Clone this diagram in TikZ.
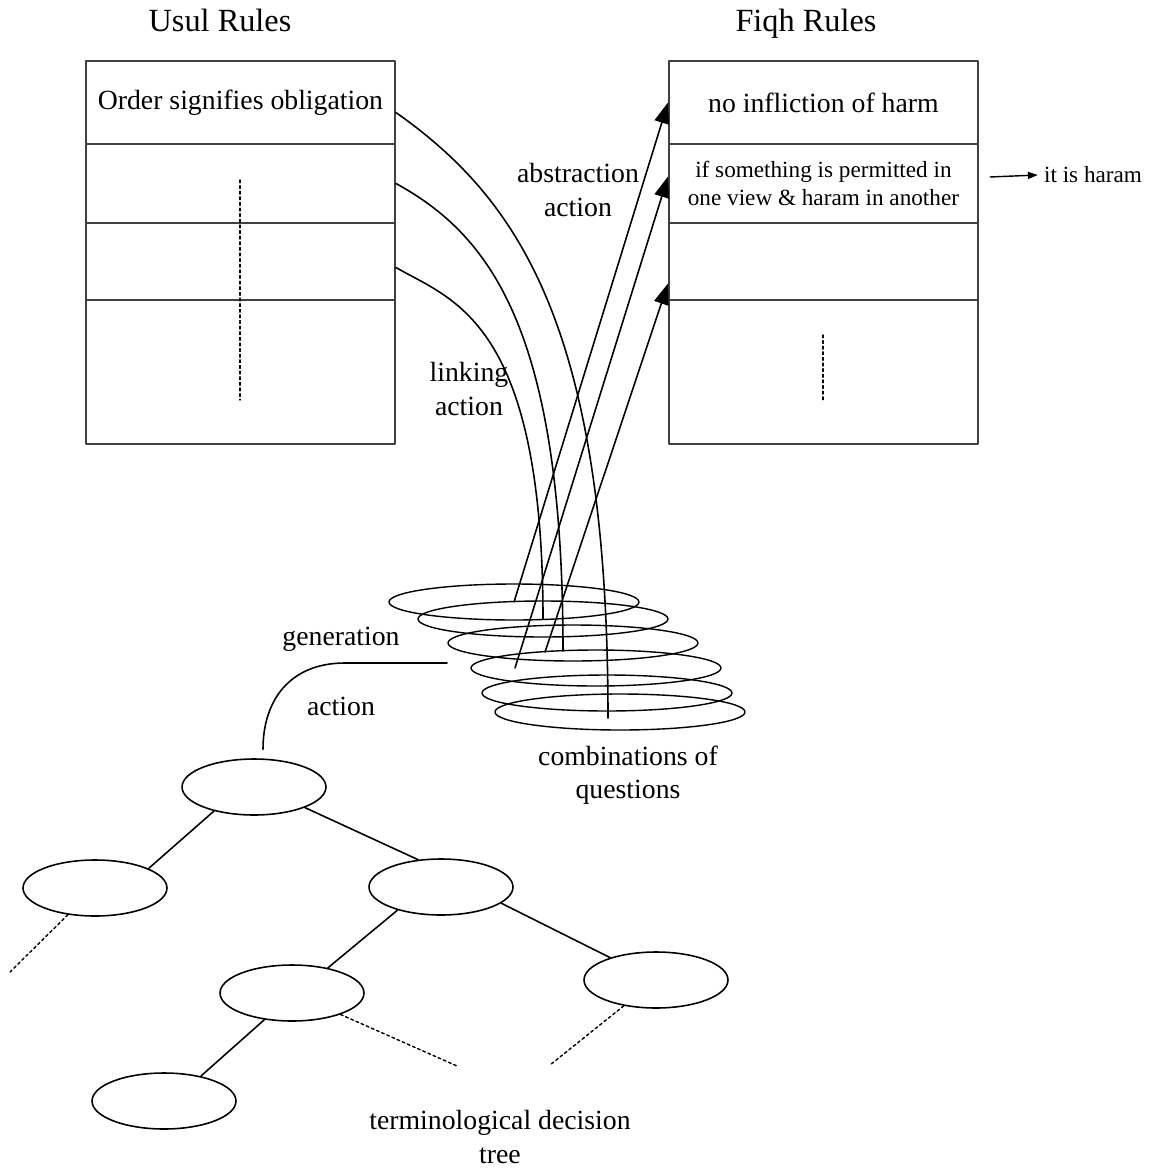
\documentclass[tikz,border=0pt]{standalone}
\usepackage{fontspec}
\setmainfont{Liberation Serif}
\usetikzlibrary{arrows.meta}
\usetikzlibrary{shapes.geometric}
\usetikzlibrary{calc}

\begin{document}
\begin{tikzpicture}[line cap=round,line join=round,x=0.02cm,y=-0.02cm,
  rulerow/.style={draw=black!75,line width=1.1pt,minimum width=6.18cm,inner sep=0pt,anchor=north west,
    font=\fontsize{15.8}{18.8}\selectfont},
  qring/.style={draw,ellipse,line width=0.8pt,minimum width=5cm,minimum height=0.72cm,inner sep=0pt},
  tnode/.style={draw,ellipse,line width=0.9pt,minimum width=2.88cm,minimum height=1.12cm,inner sep=0pt},
  lbl/.style={font=\fontsize{15.8}{18.8}\selectfont,align=center},
  smalllbl/.style={font=\fontsize{13.2}{15.4}\selectfont,align=center},
  dotline/.style={line width=0.8pt,dash pattern=on 1.6pt off 1.6pt},
  link/.style={line width=0.9pt},
  abstr/.style={line width=0.9pt,-{Triangle[length=0.42cm,width=0.3cm]}}]
\useasboundingbox (0,0) rectangle (1150,1169);
% titles
\node[font=\fontsize{18.4}{22}\selectfont,anchor=base] (usul) at (220,32) {Usul Rules};
\node[font=\fontsize{18.4}{22}\selectfont,anchor=base] (fiqh) at (806,32) {Fiqh Rules};
% usul rules
\node[rulerow,minimum height=1.66cm] (u1) at (85,60) {Order signifies obligation};
\node[rulerow,minimum height=1.58cm] (u2) at (85,143) {};
\node[rulerow,minimum height=1.54cm] (u3) at (85,222) {};
\node[rulerow,minimum height=2.88cm] (u4) at (85,299) {};
\draw[dotline] (240,180) -- (240,400);
% fiqh rules
\node[rulerow,minimum height=1.66cm] (f1) at (668,60) {no infliction of harm};
\node[rulerow,minimum height=1.58cm,smalllbl] (f2) at (668,143) {if something is permitted in\\one view \& haram in another};
\node[rulerow,minimum height=1.54cm] (f3) at (668,222) {};
\node[rulerow,minimum height=2.88cm] (f4) at (668,299) {};
\draw[dotline] (823,335) -- (823,400);
\node[smalllbl] (haram) at (1093,175) {it is haram};
\draw[line width=0.8pt,-{Triangle[length=0.2cm,width=0.14cm]}] (990,177) -- (haram.west);
% combinations of questions
\node[qring] (e1) at (514,602) {};
\node[qring] (e2) at (543,619) {};
\node[qring] (e3) at (573,643) {};
\node[qring] (e4) at (596,668) {};
\node[qring] (e5) at (607,693) {};
\node[qring] (e6) at (620,712) {};
\node[lbl] (comb) at (628,775) {combinations of\\questions};
% linking action
\draw[link] ([yshift=-0.2cm]u1.east) .. controls (520,200) and (608,330) .. ([shift={(-12,6)}]e6.center);
\draw[link] (u2.east) .. controls (490,235) and (563,330) .. ([shift={(-10,8)}]e3.center);
\draw[link] ([yshift=-0.12cm]u3.east) .. controls (452,300) and (543,320) .. (e2.center);
\node[lbl] (linking) at (469,389) {linking\\action};
% abstraction action
\draw[abstr] (e1.center) -- (f1.west);
\draw[abstr] ([shift={(-81,0)}]e4.center) -- ([yshift=0.14cm]f2.west);
\draw[abstr] ([shift={(-28,9)}]e3.center) -- ([yshift=-0.44cm]f3.west);
\node[lbl] (abstraction) at (578,190) {abstraction\\action};
% generation action
\node[tnode] (t0) at (254,787) {};
\coordinate (gen) at (447,663);
\draw[link] (gen) -- (345,663) .. controls (290,663) and (263,700) .. ($(t0.north)+(9,-9)$);
\node[lbl] (generation) at (341,639) {generation};
\node[lbl] (genaction) at (341,706) {action};
% terminological decision tree
\node[tnode] (tl) at (95,888) {};
\node[tnode] (tr) at (441,887) {};
\node[tnode] (trl) at (292,993) {};
\node[tnode] (trr) at (656,980) {};
\node[tnode] (trll) at (164,1101) {};
\draw[link] (t0.-149) -- (tl.20);
\draw[link] (t0.-22) -- (tr.130);
\draw[link] (tr.208) -- (trl.35);
\draw[link] (tr.-15) -- (trr.154);
\draw[link] (trl.224) -- (trll.34);
\draw[dotline] (tl) -- (10,972);
\draw[dotline] (trl) -- (457,1066);
\draw[dotline] (trr) -- (550,1065);
\node[lbl] (tree) at (500,1137) {terminological decision\\tree};
\end{tikzpicture}
\end{document}
